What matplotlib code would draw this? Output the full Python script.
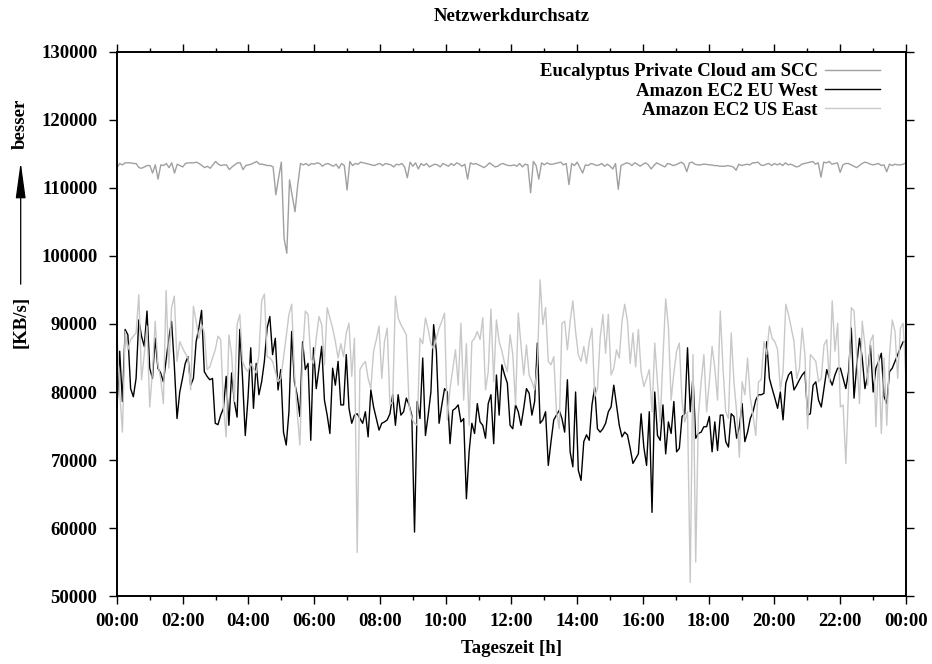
import numpy as np
import matplotlib
matplotlib.use("Agg")
import matplotlib.pyplot as plt
from matplotlib.ticker import MultipleLocator

plt.rcParams['font.family'] = ['Liberation Serif', 'DejaVu Serif']
plt.rcParams['font.weight'] = 'bold'

title = "Netzwerkdurchsatz"
xlabel = "Tageszeit [h]"
ylabel = "[KB/s]"
ylabel_hint = "besser"
series_names = ["Eucalyptus Private Cloud am SCC", "Amazon EC2 EU West", "Amazon EC2 US East"]
xtick_hours = [0, 2, 4, 6, 8, 10, 12, 14, 16, 18, 20, 22, 24]
xtick_labels = ["00:00", "02:00", "04:00", "06:00", "08:00", "10:00", "12:00",
                "14:00", "16:00", "18:00", "20:00", "22:00", "00:00"]
yticks = [50000, 60000, 70000, 80000, 90000, 100000, 110000, 120000, 130000]

# Eucalyptus Private Cloud am SCC (5-minute samples, one row per hour)
eucalyptus = [
    113000, 113600, 113400, 113700, 113700, 113700, 113600, 113600, 113000, 112900, 113100, 113300,
    113300, 112200, 113400, 111300, 113400, 113300, 113600, 113000, 113700, 112200, 113500, 113300,
    113100, 113600, 113700, 113700, 113700, 113800, 113600, 113300, 113000, 113200, 112900, 113400,
    113900, 113500, 113300, 113400, 113400, 112700, 113100, 113400, 113700, 113700, 112700, 113300,
    113400, 113500, 113700, 113900, 113500, 113500, 113400, 113300, 113300, 113100, 109000, 111500,
    113800, 102600, 100400, 111200, 108800, 106500, 110500, 113600, 113400, 113600, 113300, 113600,
    113500, 113700, 113600, 113200, 113500, 113600, 113400, 113200, 113500, 112900, 113600, 113300,
    109700, 113900, 113300, 113600, 113500, 113800, 113700, 113600, 113500, 113400, 113300, 113500,
    113600, 113300, 113600, 113500, 113400, 113100, 113500, 113400, 113600, 113100, 111500, 113800,
    113200, 113700, 112800, 113600, 113300, 113600, 113100, 113300, 113500, 113400, 113100, 113600,
    113400, 113200, 113600, 113300, 113700, 113500, 113200, 113500, 111300, 113700, 113500, 113600,
    113400, 113200, 113000, 113300, 113700, 113400, 113100, 113200, 113500, 113600, 113400, 113300,
    113300, 113400, 113200, 113600, 113100, 113500, 113400, 109300, 113900, 113300, 111300, 113700,
    113400, 113700, 113500, 113500, 113600, 113700, 113800, 113400, 113600, 110500, 113600, 113300,
    113800, 113000, 112200, 113400, 113300, 113600, 113500, 113300, 113400, 113600, 113200, 113500,
    113200, 112800, 113600, 109800, 113300, 113500, 113700, 113600, 113300, 113700, 113500, 113200,
    113500, 113700, 113400, 112800, 113300, 113700, 113500, 113300, 113100, 113600, 113500, 113300,
    113400, 113600, 113800, 113500, 112400, 113700, 113800, 113500, 113400, 113400, 113500, 113500,
    113400, 113400, 113300, 113300, 113200, 113200, 113200, 113300, 113200, 113100, 112600, 113500,
    113300, 113400, 113500, 113400, 113700, 113700, 113800, 113400, 113300, 113500, 113600, 113300,
    113600, 113400, 113600, 113300, 113700, 113400, 113500, 113300, 113100, 113200, 113500, 113600,
    113700, 113800, 113900, 113500, 113700, 111600, 113800, 113700, 113900, 113500, 113600, 113700,
    112300, 113400, 113600, 113600, 113400, 113200, 113000, 113300, 113600, 113800, 113700, 113500,
    113400, 113500, 113600, 113300, 113400, 112400, 113500, 113300, 113500, 113400, 113400, 113500,
    113700,
]

# Amazon EC2 EU West
eu_west = [
    77600, 86000, 78600, 89200, 88400, 80500, 79300, 82000, 90600, 88200, 86700, 91900,
    83500, 82000, 87900, 83500, 82800, 81500, 84700, 87900, 90400, 84000, 76100, 80000,
    82000, 84200, 85200, 81000, 82000, 87400, 89400, 92000, 83000, 82300, 81800, 82000,
    75400, 75200, 76600, 77600, 82300, 75100, 82800, 78600, 76300, 89200, 82000, 73600,
    79100, 86500, 77600, 84200, 79600, 81500, 84500, 89400, 91100, 85500, 87900, 80300,
    83300, 74100, 72200, 77100, 88900, 81500, 79600, 76400, 87400, 83300, 84200, 72900,
    86500, 80500, 83500, 86700, 78800, 76600, 73900, 83500, 81000, 84500, 78100, 78100,
    85500, 77600, 75400, 76600, 76800, 76100, 75400, 77100, 73400, 80300, 77800, 76100,
    74400, 75400,
    75600, 75900, 76800, 79600, 75100, 79600, 76600, 77100, 79100, 78100, 76600, 59400,
    78600, 76100, 85000, 73600, 76600, 80000, 89900, 86000, 75400, 78100, 80500, 80000,
    72400, 77300, 77600, 78100, 75600, 76100, 64300, 71200, 75400, 73900, 78300, 75600,
    75100, 73200, 78300, 79600, 72400, 82500, 76600, 84000, 82500, 81300, 75100, 74600,
    78100,
    77100, 75100, 77600, 80500, 79800, 76600, 78600, 87200, 75400, 75900, 77100, 69200,
    72700, 75900, 76600, 77300, 76100, 74100, 81800, 71200, 69000, 80000, 68500, 67000,
    72700, 73700, 72900, 78100, 80700, 74600, 74100, 74600, 75400, 77100, 77800, 81000,
    78100, 75100, 73400, 74100, 73700, 71700, 69500, 70200, 70900, 76800, 71900, 69200,
    77100,
    62300, 80000, 73600, 72900, 78100, 70900, 75600, 73900, 78600, 71200, 71700, 76400,
    76800, 86500, 77100, 82300, 73200, 73900, 74100, 74900, 74900, 76400, 71200, 75600,
    71400, 76600, 76600, 72700, 71900, 76800, 76400, 73200, 74900, 78300, 72700, 74100,
    76100, 77100, 78800, 79600, 79600, 79800, 87400, 82000, 80500, 79100, 77600, 80000,
    75900, 81300, 82500,
    83000, 80300, 81000, 81800, 82500, 83000, 76600, 76800, 81000, 81500, 78800, 77800,
    80500, 83300, 82000, 81000, 82500, 83500, 83500, 82000, 80500, 83000, 89400, 79100,
    84000, 87900, 85000, 80500, 82500, 86900, 80000, 83500, 84500, 85700, 79300, 78300,
    83000, 83500, 84500, 85500, 86500, 87400, 87400,
]

# Amazon EC2 US East
us_east = [
    88700, 80000, 74100, 88900, 86200, 87700, 88200, 88700, 94300, 81800, 85500, 89700,
    77800, 83000, 90400, 84000, 82000, 78300, 94900, 83500, 92400, 94100, 84500, 87400,
    86500, 85700, 85000, 80300, 92600, 90400, 87900, 89900, 88700, 83300, 83700, 85000,
    86200, 88200, 87700, 78100, 73400, 88400, 85500, 78600, 89900, 91400, 84500, 83500,
    83000, 84200, 83500, 82800, 85500, 93400, 94400, 85200, 85000, 84500, 83000, 81500,
    82000, 85000, 88200, 91400, 92900, 83000, 77100, 72200, 85500, 91900, 91400, 85000,
    84200, 87900, 91100, 89900, 84000, 92400, 90900, 89400, 87400, 85000, 87100, 85200,
    88700, 90100, 82300, 87900, 56400, 83300, 84000, 84500, 82000, 80500, 86000, 87700,
    89700, 82000,
    87400, 89400, 78100, 78600, 94100, 90900, 89900, 89200, 88400, 78100, 76100, 75400,
    75100, 87900, 87100, 90900, 89200, 87100, 86300, 87900, 89400, 90400, 91600, 75900,
    80500, 83300, 86200, 81000, 90100, 78800, 87100, 75100, 87400, 87900, 88900, 87700,
    90900, 80300, 83000, 92200, 81500, 90600, 87400, 86000, 84200, 83000, 88400, 85500,
    78100,
    91600, 86900, 82500, 86900, 82500, 81500, 80300, 84000, 96500, 89900, 92400, 84500,
    84000, 85200, 77100, 74600, 90100, 90400, 86200, 90400, 93400, 88900, 85500, 84500,
    86700, 84200, 87400, 89400, 79300, 80500, 87900, 91400, 85700, 91400, 82500, 83500,
    86200, 85000, 90400, 92900, 90400, 84200, 88700, 83700, 89200, 83000, 80800, 82000,
    83300, 77100,
    87200, 81500, 75600, 85000, 93700, 89600, 78800, 82800, 86000, 87200, 78600, 75600,
    77100, 52000, 85500, 55000, 76600, 81500, 85500, 77100, 81500, 86700, 83500, 78800,
    91900, 83500, 77100, 76100, 88700, 81500, 77100, 70400, 81500, 79600, 85000, 79100,
    76600, 73600, 81500, 81800, 87400, 85500, 89700, 87900, 87400, 86200, 80300, 83000,
    92900, 91400, 89400,
    87400, 82000, 83500, 89400, 85500, 74600, 85500, 85000, 84500, 81500, 82000, 86900,
    87700, 81500, 93400, 86000, 90100, 77800, 78100, 69500, 80500, 92400, 91900, 85000,
    78300, 90400, 86900, 81000, 87400, 88400, 74900, 85500, 73900, 85000, 75100, 85500,
    90600, 88900, 82000, 89400, 90100, 82000,
]

colors = ["#a0a0a0", "#000000", "#c8c8c8"]
fs = 13.5

fig = plt.figure(figsize=(9.32, 6.64), dpi=100)
ax = fig.add_axes([0.1255, 0.1024, 0.8465, 0.8193])

for vals, name, col in zip([eucalyptus, eu_west, us_east], series_names, colors):
    t = np.linspace(0, 24, len(vals))
    ax.plot(t, vals, color=col, lw=1.0, label=name)

ax.set_xlim(0, 24)
ax.set_ylim(50000, 130000)
ax.set_xticks(xtick_hours)
ax.set_xticklabels(xtick_labels)
ax.xaxis.set_minor_locator(MultipleLocator(1))
ax.set_yticks(yticks)
ax.set_yticklabels([str(v) for v in yticks])

for s in ax.spines.values():
    s.set_linewidth(1.4)

ax.tick_params(axis='both', which='major', direction='out', length=6, width=1.0,
               labelsize=fs, top=True, right=True)
ax.tick_params(axis='x', which='minor', direction='out', length=3, width=1.0, top=True)
ax.tick_params(axis='y', which='major', pad=8)
ax.tick_params(axis='x', which='major', pad=6)
for lab in ax.get_xticklabels() + ax.get_yticklabels():
    lab.set_fontweight('bold')

leg = ax.legend(loc='upper right', bbox_to_anchor=(0.967, 0.9795), frameon=False,
                markerfirst=False, fontsize=fs, handlelength=2.9, handletextpad=0.4,
                labelspacing=0.115, borderpad=0, borderaxespad=0)
for t in leg.get_texts():
    t.set_fontweight('bold')

fig.text(0.5488, 0.975, title, ha='center', va='center', fontsize=fs, fontweight='bold')
fig.text(0.5488, 0.024, xlabel, ha='center', va='center', fontsize=fs, fontweight='bold')
fig.text(0.0222, 0.515, ylabel, ha='center', va='center', rotation=90, fontsize=fs, fontweight='bold')
fig.text(0.0222, 0.813, ylabel_hint, ha='center', va='center', rotation=90, fontsize=fs, fontweight='bold')
ax.annotate('', xy=(0.0222, 0.756), xytext=(0.0222, 0.572), xycoords='figure fraction',
            textcoords='figure fraction',
            arrowprops=dict(arrowstyle='-|>,head_length=1.6,head_width=0.22', color='black',
                            lw=0.9, mutation_scale=14, shrinkA=0, shrinkB=0))

fig.savefig("out.png", dpi=100)
